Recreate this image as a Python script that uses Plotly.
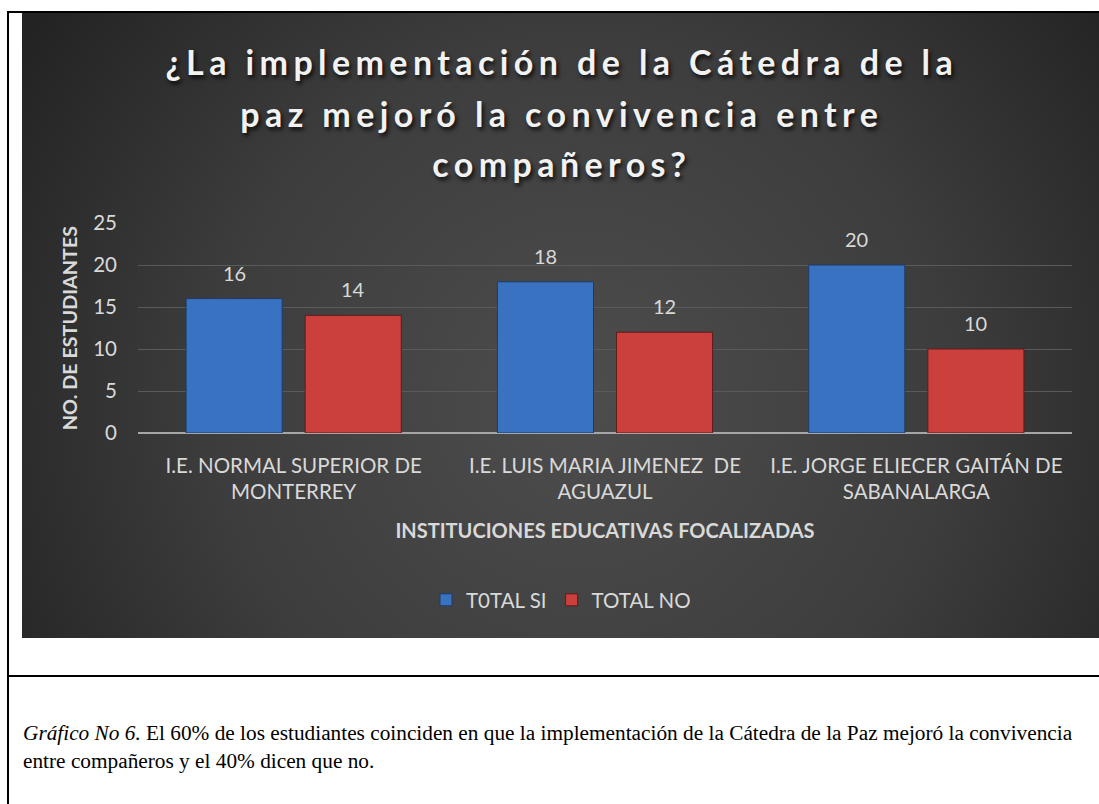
import base64
import plotly.graph_objects as go

# ---- data ----
categories = [
    "I.E. NORMAL SUPERIOR DE<br>MONTERREY",
    "I.E. LUIS MARIA JIMENEZ  DE<br>AGUAZUL",
    "I.E. JORGE ELIECER GAITÁN DE<br>SABANALARGA",
]
series_names = ["T0TAL SI", "TOTAL NO"]
total_si = [16, 18, 20]
total_no = [14, 12, 10]
y_ticks = [0, 5, 10, 15, 20, 25]

title_lines = ["¿La implementación de la Cátedra de la", "paz mejoró la convivencia entre", "compañeros?"]
y_title = "NO. DE ESTUDIANTES"
x_title = "INSTITUCIONES EDUCATIVAS FOCALIZADAS"
caption = ("<i>Gráfico No 6.</i> El 60% de los estudiantes coinciden en que la implementación de la Cátedra de la Paz mejoró la convivencia"
           "<br>entre compañeros y el 40% dicen que no.")

W, H = 1099, 804
def px(x): return x / W
def py(y): return 1 - y / H

PLOT_L, PLOT_R, PLOT_B, PLOT_T = 138, 1072, 433, 223
BARGAP, BARGROUPGAP = 0.235, 0.193

# radial gradient background for the chart panel
svg = """<svg xmlns='http://www.w3.org/2000/svg' width='1077' height='625' viewBox='0 0 1077 625' preserveAspectRatio='none'>
<defs><radialGradient id='g' cx='0.52' cy='0.62' r='0.62' gradientTransform='translate(0.52,0.62) scale(1,1.7) translate(-0.52,-0.62)'>
<stop offset='0' stop-color='#4d4d4d'/><stop offset='0.55' stop-color='#3d3d3d'/><stop offset='1' stop-color='#232323'/></radialGradient></defs>
<rect width='1077' height='625' fill='url(#g)'/></svg>"""
bg_src = "data:image/svg+xml;base64," + base64.b64encode(svg.encode()).decode()

TXT = "#d9d9d9"

fig = go.Figure()
fig.add_trace(go.Bar(
    x=categories, y=total_si, name=series_names[0],
    marker=dict(color="#3a72c2", line=dict(color="#1d3b66", width=1)),
))
fig.add_trace(go.Bar(
    x=categories, y=total_no, name=series_names[1],
    marker=dict(color="#cb3f3c", line=dict(color="#5e1c1b", width=1)),
))

# data labels placed at each bar's value on the data scales
cat_px = (PLOT_R - PLOT_L) / len(categories)
slot_px = cat_px * (1 - BARGAP) / 2
annotations = []
for vals, sign in ((total_si, -1), (total_no, 1)):
    for c, v in zip(categories, vals):
        annotations.append(dict(x=c, y=v, xref="x", yref="y", text=str(v), showarrow=False,
                                xshift=sign * slot_px / 2, yshift=26, yanchor="middle",
                                font=dict(family="Lato", size=20, color=TXT)))

for line, yc in zip(title_lines, (61, 113, 164)):
    annotations.append(dict(text="<b>" + line + "</b>", xref="paper", yref="paper", x=px(562), y=py(yc),
                            xanchor="center", yanchor="middle", showarrow=False,
                            font=dict(family="Lato", size=34, color="#f2f2f2",
                                      shadow="2px 3px 4px rgba(0,0,0,0.8)")))
annotations.append(dict(text=caption, xref="paper", yref="paper", x=px(21), y=py(747), xanchor="left", yanchor="middle",
                        showarrow=False, align="left", font=dict(family="Liberation Serif", size=21.3, color="black")))

fig.update_layout(
    width=W, height=H,
    margin=dict(l=0, r=0, t=0, b=0, autoexpand=False),
    paper_bgcolor="white", plot_bgcolor="rgba(0,0,0,0)",
    barmode="group", bargap=BARGAP, bargroupgap=BARGROUPGAP,
    showlegend=True,
    legend=dict(orientation="h", x=px(561), xanchor="center", y=py(600), yanchor="middle",
                font=dict(family="Lato", size=20.5, color=TXT), bgcolor="rgba(0,0,0,0)",
                itemwidth=30, tracegroupgap=0),
    xaxis=dict(domain=[px(PLOT_L), px(PLOT_R)], showgrid=False, showline=False, ticks="",
               ticklabelstandoff=18,
               tickfont=dict(family="Lato", size=20.5, color=TXT),
               title=dict(text="<b>" + x_title + "</b>", font=dict(family="Lato", size=20, color=TXT), standoff=21)),
    yaxis=dict(domain=[py(PLOT_B), py(PLOT_T)], range=[0, 25], tickvals=y_ticks,
               showgrid=True, gridcolor="#5a5a5a", gridwidth=1,
               zeroline=True, zerolinecolor="#a6a6a6", zerolinewidth=2,
               showline=False, ticks="", ticklabelstandoff=20,
               tickfont=dict(family="Lato", size=20.5, color=TXT),
               title=dict(text="<b>" + y_title + "</b>", font=dict(family="Lato", size=19.8, color=TXT), standoff=10)),
    images=[dict(source=bg_src, xref="paper", yref="paper", x=px(22), y=py(13),
                 sizex=px(1099) - px(22), sizey=py(13) - py(638), sizing="stretch",
                 xanchor="left", yanchor="top", layer="below")],
    annotations=annotations,
    shapes=[
        dict(type="line", xref="paper", yref="paper", x0=px(8), x1=px(8), y0=py(11), y1=0, line=dict(color="black", width=2)),
        dict(type="line", xref="paper", yref="paper", x0=px(7), x1=1, y0=py(12), y1=py(12), line=dict(color="black", width=2)),
        dict(type="line", xref="paper", yref="paper", x0=px(7), x1=1, y0=py(676), y1=py(676), line=dict(color="black", width=2)),
    ],
)

post = """
document.body.style.margin = '0';
document.querySelectorAll('.annotation-text').forEach(function (t) {
  if (t.style.fontSize === '34px') { t.style.letterSpacing = '5.4px'; }
});
"""

fig.write_html("out.html", post_script=post, config={"displayModeBar": False})
